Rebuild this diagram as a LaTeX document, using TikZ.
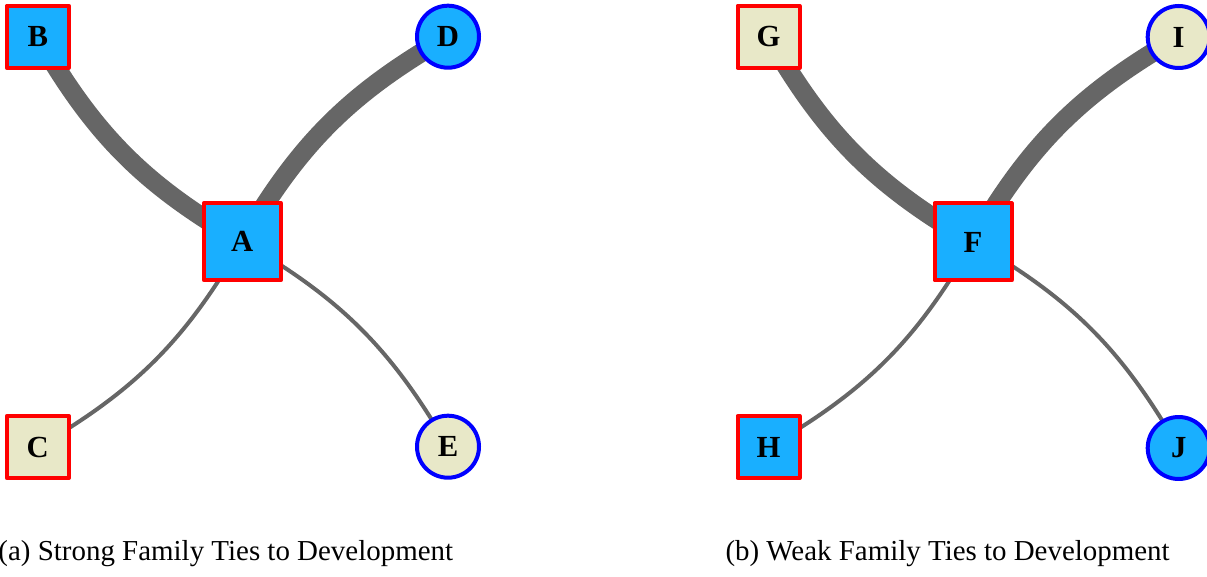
\documentclass[tikz,border=0pt]{standalone}
\usepackage{fontspec}
\setmainfont{Liberation Serif}
\usetikzlibrary{backgrounds}
\definecolor{nodeblue}{RGB}{25,175,255}
\definecolor{nodebeige}{RGB}{232,232,200}
\definecolor{edgegray}{RGB}{102,102,102}
\begin{document}
\begin{tikzpicture}[x=0.75pt,y=-0.75pt,
  every node/.style={inner sep=0pt,outer sep=0pt},
  vertex/.style={line width=3pt,line join=round,font=\fontsize{23}{25}\selectfont\bfseries},
  sq/.style={vertex,rectangle,draw=red,minimum size=46.5pt},
  hub/.style={vertex,rectangle,draw=red,minimum size=57.75pt,fill=nodeblue},
  circ/.style={vertex,circle,draw=blue,minimum size=46.5pt},
  bluefill/.style={fill=nodeblue},
  beigefill/.style={fill=nodebeige},
  tie/.style={draw=edgegray,bend left=15},
  strongtie/.style={tie,line width=14.25pt},
  weaktie/.style={tie,line width=3pt},
  caption/.style={anchor=base west,font=\fontsize{21.7}{24}\selectfont}
]
\useasboundingbox (0,0) rectangle (1207,577);

% (a) strong family ties
\node[hub] (A) at (242.3,241.7) {A};
\node[sq,bluefill] (B) at (37.8,36.7) {B};
\node[sq,beigefill] (C) at (37.8,447) {C};
\node[circ,bluefill] (D) at (448,36.7) {D};
\node[circ,beigefill] (E) at (448,446.7) {E};

% (b) weak family ties
\node[hub] (F) at (973,242) {F};
\node[sq,beigefill] (G) at (768.5,36.7) {G};
\node[sq,bluefill] (H) at (768.5,447) {H};
\node[circ,beigefill] (I) at (1178.7,37) {I};
\node[circ,bluefill] (J) at (1178.7,448) {J};

\begin{pgfonlayer}{background}
  \draw[strongtie] (A.center) to (B.center);
  \draw[strongtie] (A.center) to (D.center);
  \draw[weaktie] (A.center) to (C.center);
  \draw[weaktie] (A.center) to (E.center);
  \draw[strongtie] (F.center) to (G.center);
  \draw[strongtie] (F.center) to (I.center);
  \draw[weaktie] (F.center) to (H.center);
  \draw[weaktie] (F.center) to (J.center);
\end{pgfonlayer}

\node[caption] (capa) at (-1.5,560) {(a) Strong Family Ties to Development};
\node[caption] (capb) at (725.5,560) {(b) Weak Family Ties to Development};
\end{tikzpicture}
\end{document}
